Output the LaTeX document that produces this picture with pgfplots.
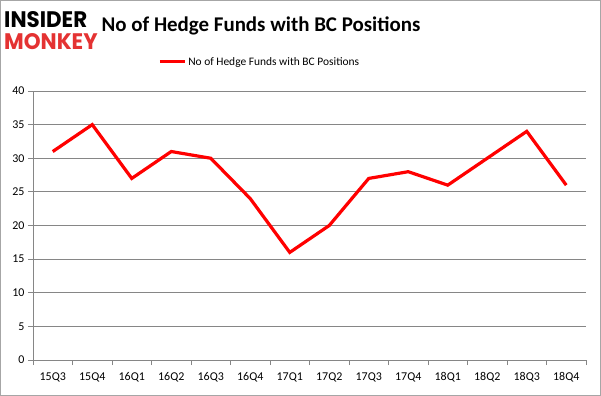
\documentclass[border=0pt]{standalone}
\usepackage{fontspec}
\setmainfont{Carlito}
\newfontfamily\logofont{Poppins}
\usepackage{pgfplots}
\pgfplotsset{compat=1.18}
\definecolor{gridgray}{RGB}{134,134,134}
\definecolor{mred}{RGB}{228,50,50}
\begin{document}
\begin{tikzpicture}
\useasboundingbox (0bp,0bp) rectangle (601bp,396bp);
\draw[gray!70, line width=1bp] (0.5bp,0.5bp) rectangle (600.5bp,395.5bp);
\node[anchor=base west, font=\logofont\bfseries\fontsize{21.5}{21.5}\selectfont, inner sep=0, yscale=1.05] at (4bp,368bp) {INSIDER};
\node[anchor=base west, font=\logofont\bfseries\fontsize{21.5}{21.5}\selectfont, inner sep=0, text=mred, yscale=1.05] at (4bp,346bp) {MONKEY};
\node[font=\fontsize{21}{21}\selectfont\bfseries, inner sep=0] at (261bp,370bp) {No of Hedge Funds with BC Positions};
\begin{axis}[
  at={(33bp,36bp)}, anchor=south west,
  scale only axis, width=553bp, height=269bp,
  xmin=-0.5, xmax=13.5, ymin=0, ymax=40,
  xtick={0,...,13},
  xticklabels={15Q3,15Q4,16Q1,16Q2,16Q3,16Q4,17Q1,17Q2,17Q3,17Q4,18Q1,18Q2,18Q3,18Q4},
  minor xtick={-0.5,0.5,...,13.5},
  major x tick style={draw=none},
  minor x tick style={gridgray, line width=0.8bp},
  minor tick length=5bp,
  ytick={0,5,...,40},
  major tick length=5bp,
  y tick style={gridgray, line width=0.8bp},
  tick align=outside,
  ymajorgrids, grid style={gridgray, line width=0.8bp},
  axis x line*=bottom, axis y line*=left,
  axis line style={gridgray, line width=0.8bp, -},
  tick label style={font=\fontsize{12}{12}\selectfont},
  xticklabel style={yshift=-4bp},
  /pgf/number format/assume math mode=true,
  legend style={at={(0.41,1.108)}, anchor=center, draw=none, fill=none, font=\fontsize{11.5}{11.5}\selectfont, legend cell align=left},
  legend image code/.code={\draw[#1, line width=3bp] (0bp,0bp) -- (25bp,0bp);},
  clip=false,
]
\addplot[color=red, line width=3.2bp, mark=none] coordinates {
(0,31) (1,35) (2,27) (3,31) (4,30) (5,24) (6,16) (7,20) (8,27) (9,28) (10,26) (11,30) (12,34) (13,26)
};
\addlegendentry{No of Hedge Funds with BC Positions}
\end{axis}
\end{tikzpicture}
\end{document}
